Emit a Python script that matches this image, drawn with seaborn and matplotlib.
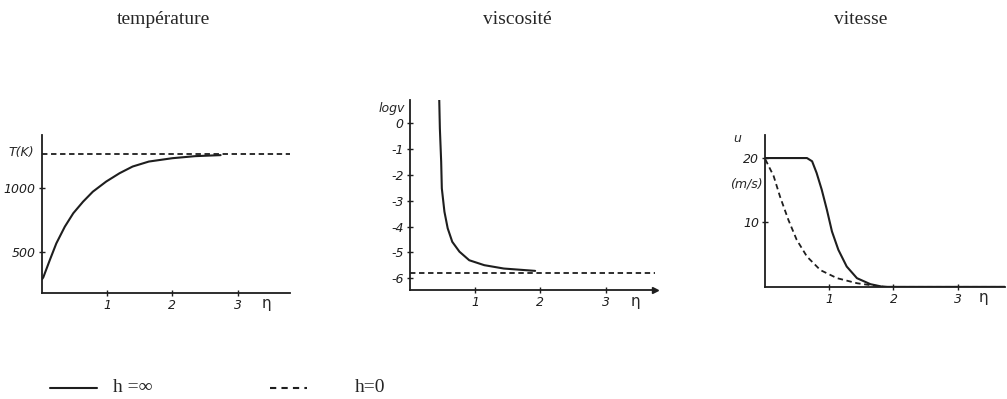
import numpy as np
import pandas as pd
import matplotlib
matplotlib.use('Agg')
import matplotlib.pyplot as plt
from matplotlib.lines import Line2D
import seaborn as sns

# temperature profile, h = inf (solid) and h = 0 asymptote (dashed)
eta_T = [0.0, 0.02, 0.12, 0.22, 0.35, 0.48, 0.63, 0.78, 0.985, 1.19, 1.39, 1.64, 2.0, 2.35, 2.74]
temp_T = [290, 305, 440, 570, 700, 805, 895, 973, 1052, 1117, 1169, 1208, 1234, 1250, 1258]
temp_h0 = 1266

# log viscosity, h = inf (solid) and h = 0 level (dashed)
eta_v = [0.45, 0.46, 0.48, 0.49, 0.53, 0.58, 0.65, 0.76, 0.91, 1.14, 1.44, 1.92]
logv = [0.94, -0.22, -1.5, -2.53, -3.43, -4.07, -4.59, -4.97, -5.30, -5.49, -5.62, -5.71]
logv_h0 = -5.81

# velocity, h = inf (solid) and h = 0 (dashed)
eta_u1 = [0.0, 0.65, 0.73, 0.8, 0.88, 0.96, 1.04, 1.14, 1.27, 1.43, 1.64, 1.84, 3.74]
u1 = [20.0, 20.0, 19.5, 17.7, 15.1, 12.0, 8.6, 5.75, 3.16, 1.35, 0.42, 0.0, 0.0]
eta_u0 = [0.0, 0.13, 0.23, 0.36, 0.49, 0.65, 0.86, 1.12, 1.43, 1.69, 1.9, 3.74]
u0 = [19.8, 17.2, 14.0, 10.4, 7.3, 4.7, 2.6, 1.35, 0.57, 0.2, 0.0, 0.0]

titles = ['température', 'viscosité', 'vitesse']
x_ticks = [1, 2, 3]

sns.set_style('white')
plt.rcParams['font.family'] = ['DejaVu Sans']
ink = '#1e1e1e'
dash = (0, (3, 2))

fig = plt.figure(figsize=(10.07, 3.99), dpi=100)
ax1 = fig.add_axes([0.0417, 0.266, 0.246, 0.396])
ax2 = fig.add_axes([0.407, 0.273, 0.243, 0.476])
ax3 = fig.add_axes([0.760, 0.281, 0.238, 0.381])

tick_font = dict(fontsize=9, style='italic')

def style_axis(ax, arrow=False):
    sns.despine(ax=ax)
    for s in ['left', 'bottom']:
        ax.spines[s].set_color(ink)
        ax.spines[s].set_linewidth(1.3)
    ax.tick_params(bottom=True, left=True, direction='inout', length=5, width=1,
                   colors=ink, labelsize=9, pad=2)
    ax.set_xticks(x_ticks)
    ax.set_xticklabels([str(t) for t in x_ticks], style='italic')
    ax.set_xlabel('')
    ax.set_ylabel('')
    ax.patch.set_alpha(0)
    if arrow:
        ax.plot(1, 0, '>', color=ink, ms=4, transform=ax.transAxes, clip_on=False)

# temperature
df_T = pd.DataFrame({'eta': eta_T, 'T': temp_T})
sns.lineplot(data=df_T, x='eta', y='T', ax=ax1, color=ink, lw=1.5)
ax1.axhline(temp_h0, color=ink, ls=dash, lw=1.3)
ax1.set_xlim(0, 3.8)
ax1.set_ylim(184, 1416)
style_axis(ax1)
ax1.set_yticks([500, 1000])
ax1.set_yticklabels(['500', '1000'], style='italic')
ax1.text(-0.03, temp_h0 + 15, 'T(K)', ha='right', va='center', transform=ax1.get_yaxis_transform(), **tick_font)
ax1.text(3.45, -0.02, 'η', ha='center', va='top', transform=ax1.get_xaxis_transform(), fontsize=11)

# viscosity
df_v = pd.DataFrame({'eta': eta_v, 'logv': logv})
sns.lineplot(data=df_v, x='eta', y='logv', ax=ax2, color=ink, lw=1.5, sort=False)
ax2.axhline(logv_h0, color=ink, ls=dash, lw=1.3)
ax2.set_xlim(0, 3.75)
ax2.set_ylim(-6.45, 0.87)
style_axis(ax2, arrow=True)
ax2.set_yticks(range(-6, 1))
ax2.set_yticklabels(['-6', '-5', '-4', '-3', '-2', '-1', '0'], style='italic')
ax2.text(-0.02, 0.55, 'logv', ha='right', va='center', transform=ax2.get_yaxis_transform(), **tick_font)
ax2.text(3.45, -0.02, 'η', ha='center', va='top', transform=ax2.get_xaxis_transform(), fontsize=11)

# velocity
df_u1 = pd.DataFrame({'eta': eta_u1, 'u': u1})
df_u0 = pd.DataFrame({'eta': eta_u0, 'u': u0})
sns.lineplot(data=df_u1, x='eta', y='u', ax=ax3, color=ink, lw=1.5)
sns.lineplot(data=df_u0, x='eta', y='u', ax=ax3, color=ink, lw=1.3, ls=dash)
ax3.set_xlim(0, 3.74)
ax3.set_ylim(0, 23.6)
style_axis(ax3)
ax3.set_yticks([10, 20])
ax3.set_yticklabels(['10', '20'], style='italic')
ax3.text(-0.1, 23.0, 'u', ha='right', va='center', transform=ax3.get_yaxis_transform(), **tick_font)
ax3.text(-0.01, 16.0, '(m/s)', ha='right', va='center', transform=ax3.get_yaxis_transform(), **tick_font)
ax3.text(3.4, -0.02, 'η', ha='center', va='top', transform=ax3.get_xaxis_transform(), fontsize=11)

# titles
for x, t in zip([0.162, 0.514, 0.855], titles):
    fig.text(x, 0.95, t, ha='center', va='center', fontsize=14, family='Liberation Serif')

# legend at bottom
ly = 1 - 388 / 399
fig.add_artist(Line2D([0.050, 0.096], [ly, ly], color=ink, lw=1.5))
fig.text(0.112, ly, 'h =∞', ha='left', va='center', fontsize=14, family='Liberation Serif')
fig.add_artist(Line2D([0.268, 0.305], [ly, ly], color=ink, lw=1.5, ls=(0, (3, 2.5))))
fig.text(0.352, ly, 'h=0', ha='left', va='center', fontsize=14, family='Liberation Serif')

fig.savefig('out.png', dpi=100)
